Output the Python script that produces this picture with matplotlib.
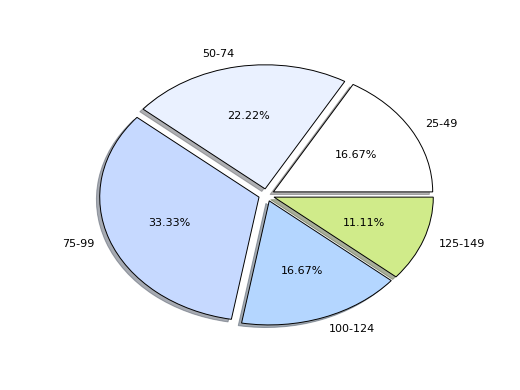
import matplotlib
matplotlib.use('Agg')
import matplotlib.pyplot as plt

# age buckets and their counts
labels = ['25-49', '50-74', '75-99', '100-124', '125-149']
counts = [3, 4, 6, 3, 2]
colors = ['#ffffff', '#eaf1ff', '#c6d9ff', '#b4d6ff', '#d0eb8a']
explode = [0.05, 0.05, 0.05, 0.05, 0.05]

fig = plt.figure(figsize=(5.2, 3.9), dpi=100)
ax = fig.add_axes([0.125, 0.115, 0.775, 0.77])
ax.pie(counts, labels=labels, colors=colors, explode=explode,
       autopct='%.2f%%',
       shadow={'ox': -0.015, 'oy': -0.015, 'shade': 0.6},
       textprops={'fontsize': 8},
       wedgeprops={'edgecolor': 'black', 'linewidth': 0.7})
ax.set_aspect('auto')
ax.set_xlim(-1.265, 1.265)
ax.set_ylim(-1.21, 1.21)
plt.savefig('out.png')
plt.close()
